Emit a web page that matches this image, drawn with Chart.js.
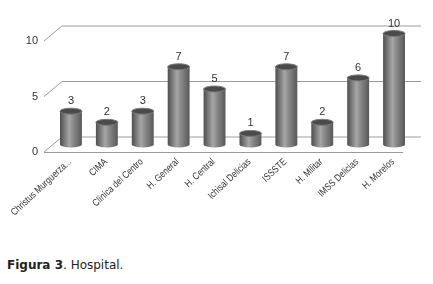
<!DOCTYPE html>
<html>
<head>
<meta charset="utf-8">
<script src="https://cdn.jsdelivr.net/npm/chart.js@4/dist/chart.umd.min.js"></script>
<style>
  html, body { margin: 0; padding: 0; background: #fff; }
  #wrap { position: relative; width: 433px; height: 230px; }
  #caption {
    position: absolute; left: 7px; top: 258px;
    font-family: "DejaVu Sans", Verdana, sans-serif; font-size: 12px; color: #222;
  }
  #caption b { font-weight: bold; }
</style>
</head>
<body>
<div id="wrap"><canvas id="chart" width="433" height="230"></canvas></div>
<div id="caption"><b>Figura 3</b>. Hospital.</div>
<script>
(function () {
  "use strict";

  var categories = [
    "Christus Murguerza...", "CIMA", "Clínica del Centro", "H. General", "H. Central",
    "Ichisal Delicias", "ISSSTE", "H. Militar", "IMSS Delicias", "H. Morelos"
  ];
  var values = [3, 2, 3, 7, 5, 1, 7, 2, 6, 10];
  var yTicks = [0, 5, 10];

  // depth offset between the mid plane (where cylinders stand) and front/back
  var DX = 9, DY = 7.5;
  var textFont = '11px "Liberation Sans", Arial, sans-serif';
  var labelFont = '10px "Liberation Sans", Arial, sans-serif';

  var walls = {
    id: "walls",
    beforeDatasetsDraw: function (chart) {
      var ctx = chart.ctx, y = chart.scales.y, area = chart.chartArea;
      ctx.save();
      yTicks.forEach(function (v) {
        var py = y.getPixelForValue(v);
        ctx.lineWidth = v === 0 ? 2 : 1;
        ctx.strokeStyle = v === 0 ? "#cfcfcf" : "#9a9a9a";
        ctx.beginPath();
        ctx.moveTo(area.left + DX, py - DY);
        ctx.lineTo(area.right + DX, py - DY);
        ctx.stroke();
        ctx.lineWidth = 1;
        ctx.strokeStyle = "#9a9a9a";
        ctx.beginPath();
        ctx.moveTo(area.left - DX, py + DY);
        ctx.lineTo(area.left + DX, py - DY);
        ctx.stroke();
        ctx.fillStyle = "#333";
        ctx.font = textFont;
        ctx.textAlign = "right";
        ctx.textBaseline = "middle";
        ctx.fillText(String(v), area.left - DX - 6, py + DY);
      });
      var p0 = y.getPixelForValue(0) + DY;
      ctx.strokeStyle = "#9a9a9a";
      ctx.beginPath();
      ctx.moveTo(area.left - DX, p0 + 0.5);
      ctx.lineTo(area.right - DX, p0 + 0.5);
      ctx.stroke();
      ctx.restore();
    }
  };

  var cylinders = {
    id: "cylinders",
    afterDatasetsDraw: function (chart) {
      var ctx = chart.ctx;
      var meta = chart.getDatasetMeta(0);
      ctx.save();
      meta.data.forEach(function (bar, i) {
        var rx = bar.width / 2, ry = 3;
        var cx = bar.x, top = bar.y, base = bar.base;
        var g = ctx.createLinearGradient(cx - rx, 0, cx + rx, 0);
        g.addColorStop(0, "#4e4e4e");
        g.addColorStop(0.42, "#a6a6a6");
        g.addColorStop(0.6, "#8a8a8a");
        g.addColorStop(1, "#585858");
        ctx.fillStyle = g;
        ctx.beginPath();
        ctx.moveTo(cx - rx, top);
        ctx.lineTo(cx - rx, base);
        ctx.ellipse(cx, base, rx, ry, 0, Math.PI, 0, true);
        ctx.lineTo(cx + rx, top);
        ctx.closePath();
        ctx.fill();
        ctx.fillStyle = "#4a4a4a";
        ctx.strokeStyle = "#7a7a7a";
        ctx.lineWidth = 1;
        ctx.beginPath();
        ctx.ellipse(cx, top, rx, ry, 0, 0, Math.PI * 2);
        ctx.fill();
        ctx.stroke();

        ctx.fillStyle = "#333";
        ctx.font = textFont;
        ctx.textAlign = "center";
        ctx.textBaseline = "alphabetic";
        ctx.fillText(String(values[i]), cx, top - 7);

        // condensed, rotated category label
        ctx.save();
        ctx.translate(cx - 1, base + 16);
        ctx.rotate(-43 * Math.PI / 180);
        ctx.scale(0.82, 1);
        ctx.font = labelFont;
        ctx.textAlign = "right";
        ctx.textBaseline = "middle";
        ctx.fillText(categories[i], 0, 0);
        ctx.restore();
      });
      ctx.restore();
    }
  };

  new Chart(document.getElementById("chart").getContext("2d"), {
    type: "bar",
    data: {
      labels: categories,
      datasets: [{
        data: values,
        backgroundColor: "rgba(0,0,0,0)",
        borderWidth: 0,
        categoryPercentage: 1,
        barPercentage: 0.61
      }]
    },
    options: {
      responsive: false,
      animation: false,
      layout: { padding: { left: 53, right: 21, top: 33.5, bottom: 85.5 } },
      scales: {
        x: { display: false },
        y: { display: false, min: 0, max: 10 }
      },
      plugins: { legend: { display: false }, tooltip: { enabled: false } }
    },
    plugins: [walls, cylinders]
  });
})();
</script>
</body>
</html>
